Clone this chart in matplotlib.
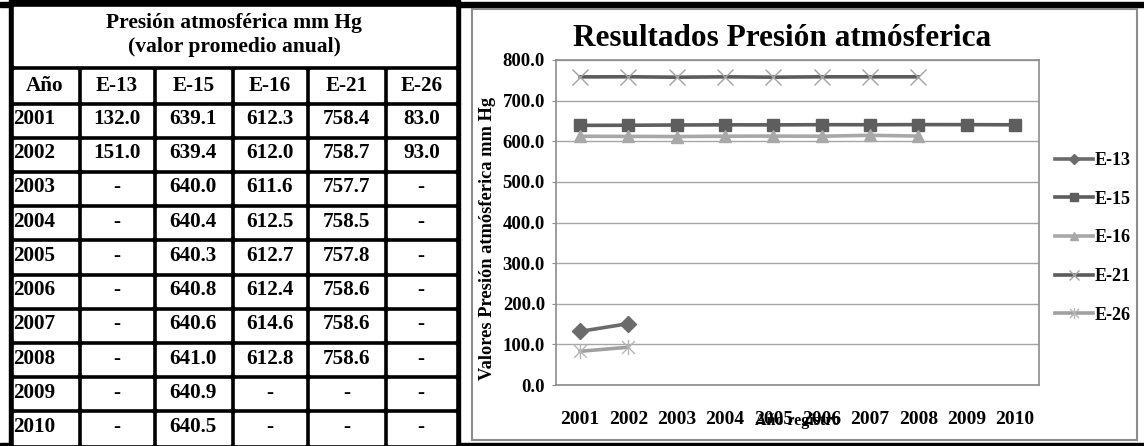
import numpy as np
import matplotlib
matplotlib.use("Agg")
import matplotlib.pyplot as plt
from matplotlib.patches import Rectangle
from matplotlib.path import Path

# datos de la tabla (valor promedio anual, mm Hg)
years = [2001, 2002, 2003, 2004, 2005, 2006, 2007, 2008, 2009, 2010]
stations = ["E-13", "E-15", "E-16", "E-21", "E-26"]
e13 = [132.0, 151.0, None, None, None, None, None, None, None, None]
e15 = [639.1, 639.4, 640.0, 640.4, 640.3, 640.8, 640.6, 641.0, 640.9, 640.5]
e16 = [612.3, 612.0, 611.6, 612.5, 612.7, 612.4, 614.6, 612.8, None, None]
e21 = [758.4, 758.7, 757.7, 758.5, 757.8, 758.6, 758.6, 758.6, None, None]
e26 = [83.0, 93.0, None, None, None, None, None, None, None, None]
y_ticks = [0, 100, 200, 300, 400, 500, 600, 700, 800]

series = [e13, e15, e16, e21, e26]

plt.rcParams["font.family"] = ["Liberation Serif", "DejaVu Serif"]
plt.rcParams["font.weight"] = "bold"

W, H = 1144, 446
fig = plt.figure(figsize=(W / 100, H / 100), dpi=100)

# fondo en pixeles para la tabla y el marco del grafico
bg = fig.add_axes([0, 0, 1, 1])
bg.set_xlim(0, W)
bg.set_ylim(H, 0)
bg.axis("off")

# ---- tabla ----
xs = [11, 79, 154.5, 232, 307.5, 385, 457.5]
ys = [4.5, 67.5, 103] + [103 + 34.2 * (k + 1) for k in range(9)] + [446]
lw = 5
bg.add_patch(Rectangle((xs[0] - 2, 0), xs[-1] + 2.5 - xs[0] + 2, H, color="black"))
bg.add_patch(Rectangle((0, 2), W, 5, color="black"))
bg.add_patch(Rectangle((0, 443), W, 3, color="black"))

def cell(x0, x1, y0, y1):
    bg.add_patch(Rectangle((x0 + lw / 2, y0 + lw / 2), x1 - x0 - lw, y1 - y0 - lw,
                           color="white"))

cell(xs[0], xs[-1], ys[0], ys[1])
for r in range(1, len(ys) - 1):
    for c in range(len(xs) - 1):
        cell(xs[c], xs[c + 1], ys[r], ys[r + 1])

fs = 15.2
cx = (xs[0] + xs[-1]) / 2
bg.text(cx, 23, "Presión atmosférica mm Hg", ha="center", va="center", fontsize=15.5, weight="bold")
bg.text(cx, 47, "(valor promedio anual)", ha="center", va="center", fontsize=15.5, weight="bold")

hy = (ys[1] + ys[2]) / 2 + 1
bg.text((xs[0] + xs[1]) / 2, hy, "Año", ha="center", va="center", fontsize=fs, weight="bold")
for c, name in enumerate(stations):
    bg.text((xs[c + 1] + xs[c + 2]) / 2, hy, name, ha="center", va="center", fontsize=fs, weight="bold")

for r, yr in enumerate(years):
    ry = (ys[r + 2] + ys[r + 3]) / 2 - 1
    bg.text(xs[0] + 2, ry, str(yr), ha="left", va="center", fontsize=fs, weight="bold")
    for c, s in enumerate(series):
        v = s[r]
        txt = "-" if v is None else f"{v:.1f}"
        bg.text((xs[c + 1] + xs[c + 2]) / 2, ry, txt, ha="center", va="center", fontsize=fs, weight="bold")

# ---- marco del grafico ----
bg.add_patch(Rectangle((472, 9), 1137 - 472, 440 - 9, fill=False, edgecolor="#8c8c8c", lw=1.5))
bg.text(782, 39, "Resultados Presión atmósferica", ha="center", va="center", fontsize=22.5, weight="bold")

# ---- grafico de lineas ----
L, R, T, B = 556, 1039, 60, 385
ax = fig.add_axes([L / W, (H - B) / H, (R - L) / W, (B - T) / H])
ax.set_facecolor("white")

star = Path([(-1, -1), (1, 1), (-1, 1), (1, -1), (0, -1.2), (0, 1.2)],
            [Path.MOVETO, Path.LINETO, Path.MOVETO, Path.LINETO, Path.MOVETO, Path.LINETO])

styles = [
    dict(color="#6b6b6b", marker="D", ms=8, mfc="#6b6b6b", mec="#6b6b6b"),
    dict(color="#5e5e5e", marker="s", ms=9, mfc="#5e5e5e", mec="#5e5e5e"),
    dict(color="#a8a8a8", marker="^", ms=9, mfc="#a8a8a8", mec="#a8a8a8"),
    dict(color="#5c5c5c", marker="x", ms=11, mec="#a3a3a3", mew=1),
    dict(color="#a0a0a0", marker=star, ms=11, mec="#b5b5b5", mew=1),
]

x = np.arange(len(years))
for name, s, st in zip(stations, series, styles):
    vals = np.array([np.nan if v is None else v for v in s])
    ax.plot(x, vals, lw=2.6, label=name, **st)

ax.set_xlim(-0.5, len(years) - 0.5)
ax.set_ylim(0, 800)
ax.set_yticks(y_ticks)
ax.set_yticklabels([f"{v:.1f}" for v in y_ticks])
ax.set_xticks(x)
ax.set_xticklabels([str(y) for y in years])
ax.grid(axis="y", color="#a6a6a6", lw=1)
ax.set_axisbelow(True)
for sp in ax.spines.values():
    sp.set_color("#8c8c8c")
    sp.set_linewidth(1.2)
ax.tick_params(axis="x", length=0, pad=19, labelsize=14)
ax.tick_params(axis="y", length=3, color="#8c8c8c", pad=5, labelsize=13.5)
for lab in ax.get_xticklabels() + ax.get_yticklabels():
    lab.set_fontweight("bold")

ax.set_xlabel("Año registro", fontsize=11.5, weight="bold")
ax.xaxis.set_label_coords(0.5, (B - 421) / (B - T))
ax.xaxis.label.set_va("center")
ax.set_ylabel("Valores Presión atmósferica mm Hg", fontsize=13.2, weight="bold")
ax.yaxis.set_label_coords((488 - L) / (R - L), (B - 238) / (B - T))
ax.yaxis.label.set_va("center")

leg = ax.legend(loc="upper left", bbox_to_anchor=(1055 / W, 1 - 152 / H), bbox_transform=fig.transFigure,
                frameon=False, fontsize=13, borderpad=0, borderaxespad=0, handlelength=2.1,
                handletextpad=0.1, labelspacing=1.2, markerscale=0.7)
for t in leg.get_texts():
    t.set_fontweight("bold")

fig.savefig("out.png", dpi=100)
